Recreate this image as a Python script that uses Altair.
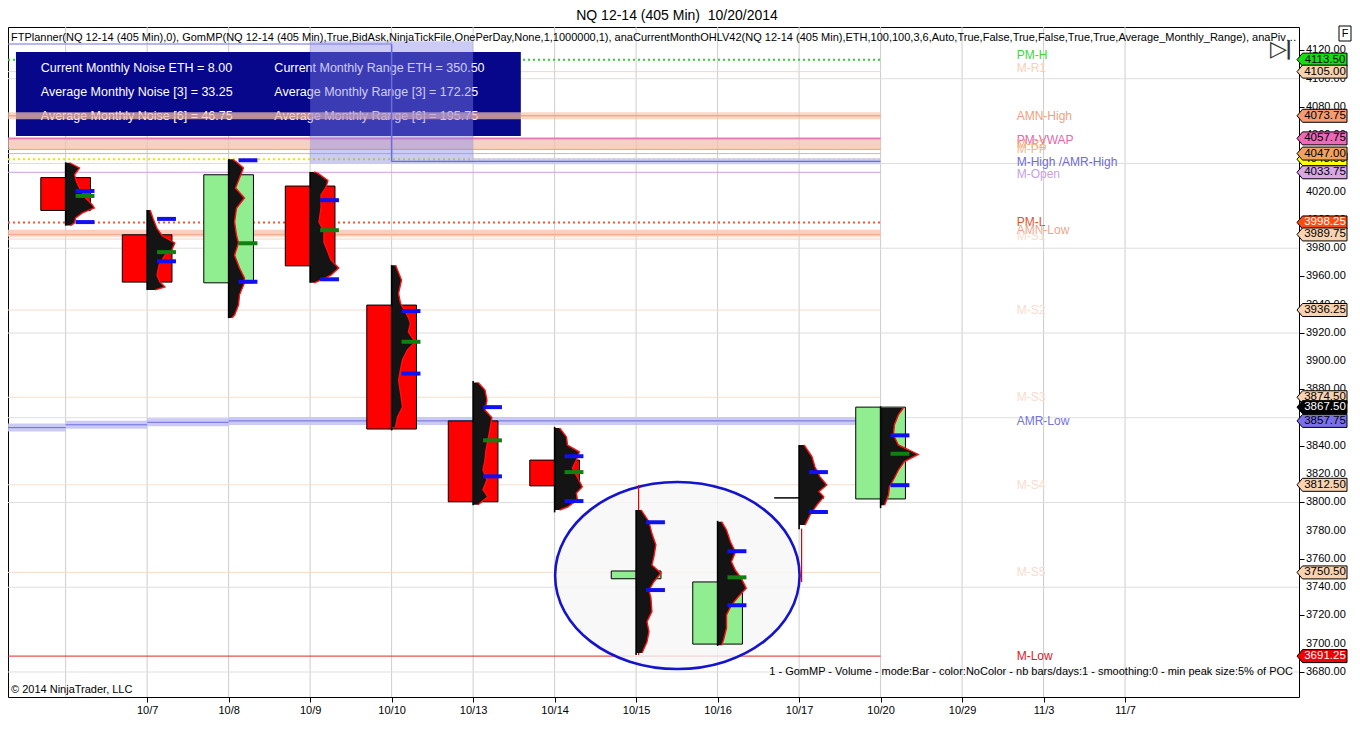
import json
import altair as alt
import pandas as pd

FONT = "Liberation Sans"

# ------------------------------------------------------------------ data
slot_dates = ["10/6", "10/7", "10/8", "10/9", "10/10", "10/13", "10/14", "10/15",
              "10/16", "10/17", "10/20", "10/29", "11/3", "11/7"]
bar_dates = ["10/6", "10/7", "10/8", "10/9", "10/10", "10/13", "10/14", "10/15",
             "10/16", "10/17", "10/20"]
opens = [4030.0, 3989.5, 3955.5, 4024.0, 3939.75, 3857.75, 3830.0, 3746.0, 3699.75, 3803.25, 3802.5]
highs = [4040.75, 4007.0, 4043.0, 4034.0, 3968.0, 3886.0, 3853.5, 3794.75, 3787.0, 3840.75, 3868.0]
lows = [3996.0, 3950.5, 3930.5, 3955.5, 3851.0, 3798.0, 3793.0, 3692.0, 3698.5, 3781.0, 3796.0]
closes = [4006.75, 3956.0, 4032.0, 3967.5, 3852.0, 3800.5, 3811.75, 3751.5, 3743.75, 3803.25, 3867.5]

vah = [4020.5, 4000.75, 4042.25, 4014.0, 3935.5, 3867.5, 3832.75, 3786.0, 3765.5, 3821.5, 3847.5]
val = [3998.5, 3970.75, 3956.25, 3958.0, 3891.25, 3818.5, 3801.0, 3738.0, 3727.25, 3793.25, 3812.25]
poc = [4017.0, 3977.25, 3983.5, 3992.75, 3913.75, 3844.0, 3821.5, None, 3747.0, None, 3834.5]

# volume profiles: (price, relative volume)
prof_1006 = [(4040.5, 4), (4036.8, 14), (4032, 9), (4027, 11), (4022.7, 14), (4015.6, 20), (4010.7, 27),
             (4008.5, 29), (4005, 17), (4001.4, 10), (3998, 9), (3996, 5)]
prof_1007 = [(4007, 3), (4001, 6), (3994, 10), (3989, 15), (3983.7, 28), (3978.8, 25), (3975, 18),
             (3968, 12), (3961, 10), (3956, 13), (3952.6, 18), (3950.5, 8)]
prof_1008 = [(4043, 4), (4041, 8), (4036.8, 15), (4029.7, 11), (4022.6, 7), (4015.6, 16), (4008.5, 8),
             (3998.6, 6), (3989, 8), (3983.7, 10), (3975, 6), (3966, 11), (3959, 16), (3955.4, 16),
             (3947, 11), (3940, 10), (3932.7, 6), (3930.6, 3)]
prof_1009 = [(4034, 4), (4033, 8), (4028, 18), (4023, 16), (4017.7, 11), (4008.5, 11), (3998.6, 9),
             (3991.5, 14), (3984.4, 14), (3977.3, 18), (3971.7, 21), (3966, 29), (3961, 21),
             (3957.5, 11), (3955.5, 4)]
prof_1010 = [(3968, 4), (3957.5, 10), (3948, 7), (3941, 9), (3931, 17), (3927, 19), (3920.7, 17),
             (3913.6, 24), (3908, 16), (3901, 11), (3894, 9), (3886.7, 7), (3877.5, 9), (3867.6, 11),
             (3860.5, 6), (3853.5, 4)]
prof_1013 = [(3885, 5), (3879.6, 12), (3872.6, 14), (3865.5, 12), (3860, 19), (3851.3, 17), (3844.2, 15),
             (3837, 13), (3830, 12), (3823, 10), (3816, 14), (3809, 10), (3804, 15), (3798.4, 5)]
prof_1014 = [(3852.7, 5), (3846.4, 12), (3840.7, 13), (3835.8, 25), (3830, 22), (3824.4, 18), (3818, 23),
             (3811, 28), (3806.7, 22), (3801.8, 23), (3796.8, 13), (3794.7, 5)]
prof_1015 = [(3794.7, 5), (3786.4, 13), (3778, 16), (3770, 20), (3761.6, 18), (3755.8, 16), (3750, 25),
             (3743.9, 18), (3738, 13), (3732.4, 15), (3722.7, 16), (3715.6, 11), (3708.5, 13),
             (3701.4, 11), (3693.5, 6)]
prof_1016 = [(3786.4, 4), (3780.5, 9), (3772.2, 13), (3765, 18), (3758, 14), (3752, 18), (3746.3, 24),
             (3739.3, 29), (3733.3, 21), (3727.4, 14), (3720.4, 9), (3711, 9), (3702.7, 6), (3699, 4)]
prof_1017 = [(3840.7, 5), (3832.5, 13), (3825.3, 16), (3818.3, 21), (3812.4, 28), (3807.7, 20), (3804, 25),
             (3798.2, 18), (3791, 11), (3784, 6)]
prof_1020 = [(3866.9, 23), (3862, 18), (3855, 14), (3847.8, 13), (3840.7, 18), (3834, 38), (3829, 24),
             (3823, 18), (3817.3, 14), (3811.2, 9), (3805.3, 8), (3798, 4)]
profiles = [prof_1006, prof_1007, prof_1008, prof_1009, prof_1010, prof_1013, prof_1014,
            prof_1015, prof_1016, prof_1017, prof_1020]

# thin red tails (slot, top, bottom)
tail_slots = [7, 9]
tail_tops = [3812.4, 3781.5]
tail_bottoms = [3692.0, 3743.7]

y_ticks = [3680, 3700, 3720, 3740, 3760, 3780, 3800, 3820, 3840, 3860, 3880, 3900, 3920,
           3940, 3960, 3980, 4000, 4020, 4040, 4060, 4080, 4100, 4120]
grid_prices = [3680, 3740, 3800, 3860, 3920, 3980, 4040, 4100]

level_names = ["PM-H", "M-R1", "AMN-High", "PM-VWAP", "M-R2", "M-PP", "M-High /AMR-High", "M-Open",
               "PM-L", "AMN-Low", "M-S1", "M-S2", "M-S3", "AMR-Low", "M-S4", "M-S5", "M-Low"]
level_prices = [4113.50, 4105.00, 4073.75, 4057.75, 4054.0, 4050.0, 4041.5, 4033.75,
                3998.25, 3989.75, 3986.5, 3936.25, 3874.50, 3857.75, 3812.50, 3750.50, 3691.25]
level_label_prices = [4116.5, 4107.5, 4073.75, 4056.5, 4054.0, 4050.5, 4041.0, 4032.5,
                      3998.25, 3993.0, 3989.0, 3936.25, 3874.50, 3858.0, 3812.50, 3750.50, 3691.25]
level_colors = ["#3ad83a", "#f8d0b6", "#f0a080", "#e468a8", "#f0a878", "#f2b888", "#6e6ad8", "#c8a0e2",
                "#e2502e", "#f0a48c", "#f6dccc", "#f8dccc", "#f8dccc", "#7474dc", "#f8dccc", "#f8dccc",
                "#e41428"]

flag_prices = [4113.50, 4105.00, 4073.75, 4057.75, 4043.00, 4047.00, 4033.75, 3998.25, 3989.75,
               3936.25, 3874.50, 3867.50, 3857.75, 3812.50, 3750.50, 3691.25]
flag_fills = ["#10e010", "#f9d2b0", "#f59a72", "#f068b8", "#ffff00", "#f2a25c", "#d6a6e6", "#ff4a10",
              "#f9d2b0", "#f9d2b0", "#f9d2b0", "#000000", "#7a70ec", "#f9d2b0", "#f9d2b0", "#f00000"]
flag_text_colors = ["black", "black", "black", "black", "black", "black", "black", "white",
                    "black", "black", "black", "white", "black", "black", "black", "white"]

info_left = ["Current Monthly Noise ETH = 8.00", "Average Monthly Noise [3] = 33.25",
             "Average Monthly Noise [6] = 46.75"]
info_right = ["Current Monthly Range ETH = 350.50", "Average Monthly Range [3] = 172.25",
              "Average Monthly Range [6] = 195.75"]

title_text = "NQ 12-14 (405 Min)\u00a0 10/20/2014"
header_text = ("FTPlanner(NQ 12-14 (405 Min),0), GomMP(NQ 12-14 (405 Min),True,BidAsk,NinjaTickFile,"
               "OnePerDay,None,1,1000000,1), anaCurrentMonthOHLV42(NQ 12-14 (405 Min),ETH,100,100,3,6,"
               "Auto,True,False,True,False,True,True,Average_Monthly_Range), anaPivotsMonthly")
footer_text = ("1 - GomMP - Volume - mode:Bar - color:NoColor - nb bars/days:1 - smoothing:0 - "
               "min peak size:5% of POC")
copyright_text = "\u00a9 2014 NinjaTrader, LLC"

# highlighted area (ellipse centre)
hl_slot = [7.506]
hl_price = [3748.3]

# ------------------------------------------------------------------ scales
X0, X1 = -0.70732, 15.13415
XS = alt.Scale(domain=[X0, X1], nice=False, zero=False)
YS = alt.Scale(domain=[3662.3, 4136.6], nice=False, zero=False)
PX = 1291 / 1299  # ref px -> chart px
LAST = 10         # last bar slot, level lines end here
PLOT_W = 1291

layers = []

# grid + axes
vgrid = pd.DataFrame({"s": list(range(len(slot_dates)))})
layers.append(alt.Chart(vgrid).mark_rule(color="#cdcdcd", strokeWidth=1).encode(
    x=alt.X("s:Q", scale=XS, title=None,
            axis=alt.Axis(orient="bottom", values=list(range(1, len(slot_dates))),
                          labelExpr=f"{json.dumps(slot_dates)}[datum.value]",
                          tickSize=5, tickColor="black", domain=False, grid=False,
                          labelFont=FONT, labelFontSize=11, labelColor="black",
                          labelPadding=2, labelFlush=False, labelOverlap=False))))
hgrid = pd.DataFrame({"p": grid_prices})
layers.append(alt.Chart(hgrid).mark_rule(color="#dedede", strokeWidth=1).encode(
    y=alt.Y("p:Q", scale=YS, title=None,
            axis=alt.Axis(orient="right", values=y_ticks, tickSize=5, labels=False,
                          tickColor="black", domain=False, grid=False))))
# price-axis labels
ytl = pd.DataFrame({"p": y_ticks})
layers.append(alt.Chart(ytl).mark_text(align="left", baseline="middle", fontSize=11, font=FONT,
                                       color="black", dx=7).encode(
    x=alt.value(PLOT_W), y=alt.Y("p:Q", scale=YS), text=alt.Text("p:Q", format=".2f")))


def hline(price, start, end, color, width, dash=None, opacity=1.0):
    df = pd.DataFrame({"p": [price], "s": [start], "e": [end]})
    kw = dict(color=color, strokeWidth=width, opacity=opacity)
    if dash:
        kw["strokeDash"] = dash
    return alt.Chart(df).mark_rule(**kw).encode(
        x=alt.X("s:Q", scale=XS), x2="e:Q", y=alt.Y("p:Q", scale=YS))


def vline(slot, p0, p1, color, width, opacity=1.0):
    df = pd.DataFrame({"s": [slot], "a": [p0], "b": [p1]})
    return alt.Chart(df).mark_rule(color=color, strokeWidth=width, opacity=opacity).encode(
        x=alt.X("s:Q", scale=XS), y=alt.Y("a:Q", scale=YS), y2="b:Q")


lp = dict(zip(level_names, level_prices))
# level lines under the info box
layers += [
    hline(lp["PM-H"], X0, LAST, "#2ed02e", 2, [2, 3]),
    hline(lp["M-R1"], X0, LAST, "#f6d6c2", 1),
    hline(lp["M-R2"], X0, LAST, "#f4c0b0", 9, opacity=0.75),
    hline(lp["PM-VWAP"], X0, LAST, "#ea78b8", 2),
    hline(lp["M-PP"], X0, LAST, "#f2aa70", 1.5),
    hline(4047.0, X0, LAST, "#f0b080", 1),
    hline(4043.0, X0, LAST, "#e6e600", 2, [2, 3]),
    hline(lp["M-Open"], X0, LAST, "#c8a0e6", 1),
    hline(lp["AMN-Low"] + 0.8, X0, LAST, "#f9c8b2", 7, opacity=0.85),
    hline(lp["AMN-Low"], X0, LAST, "#f2a890", 1),
    hline(lp["PM-L"], X0, LAST, "#f05838", 2, [2, 3]),
    hline(lp["M-S1"], X0, LAST, "#f2d4c4", 1),
    hline(lp["M-S2"], X0, LAST, "#f5dccb", 1),
    hline(lp["M-S3"], X0, LAST, "#f5dccb", 1),
    hline(lp["M-S4"], X0, LAST, "#f5dccb", 1),
    hline(lp["M-S5"], X0, LAST, "#f5dccb", 1),
    hline(lp["M-Low"], X0, LAST, "#e02828", 1),
]
# AMR-Low stepped band
amr_low_steps = [(X0, 0, 3853.0), (0, 1, 3855.0), (1, 2, 3856.75), (2, LAST, 3857.75)]
for s, e, p in amr_low_steps:
    layers.append(hline(p, s, e, "#c4c4f4", 8, opacity=0.9))
for s, e, p in amr_low_steps:
    layers.append(hline(p, s, e, "#6c6ce0", 1))
# AMR-High band right part
layers.append(hline(lp["M-High /AMR-High"], 5, LAST, "#c8c8f4", 6, opacity=0.9))


def ptext(text, x, y, size=11, color="black", align="left", weight="normal", font=FONT, limit=0):
    kw = dict(align=align, baseline="middle", fontSize=size, color=color, font=font,
              fontWeight=weight)
    if limit:
        kw["limit"] = limit
        kw["ellipsis"] = ""
    return alt.Chart(pd.DataFrame({"t": [text]})).mark_text(**kw).encode(
        x=alt.value(x), y=alt.value(y), text="t:N")


# info box
box = pd.DataFrame({"a": [0]})
layers.append(alt.Chart(box).mark_rect(color="#07078c").encode(
    x=alt.value(8 * PX), x2=alt.value(516 * PX), y=alt.value(25), y2=alt.value(109)))
for k in range(3):
    layers.append(ptext(info_left[k], 33 * PX, 41 + 24 * k, size=12.5, color="white"))
    layers.append(ptext(info_right[k], 268 * PX, 41 + 24 * k, size=12.5, color="white"))

# over the box: AMN-High band and AMR-High overlay
layers.append(hline(lp["AMN-High"], X0, LAST, "#f9c4ac", 7, opacity=0.7))
layers.append(hline(lp["AMN-High"], X0, LAST, "#e88a70", 1, opacity=0.9))
ovl = pd.DataFrame({"s": [3], "e": [5], "a": [4040.0], "b": [4126.5]})
layers.append(alt.Chart(ovl).mark_rect(color="#8282ea", opacity=0.42).encode(
    x=alt.X("s:Q", scale=XS), x2="e:Q", y=alt.Y("a:Q", scale=YS), y2="b:Q"))
layers.append(hline(4124.5, X0, 4, "#8a8ae8", 1.5, opacity=0.8))
layers.append(vline(4, lp["M-High /AMR-High"], 4124.5, "#6c6ce0", 1.5))
layers.append(hline(lp["M-High /AMR-High"], 4, LAST, "#6c6ce0", 1.2))

# highlight ellipse
k = 0.5523
ry = 0.765
ell = (f"M-1,0 C-1,{-k*ry:.4f} {-k:.4f},{-ry} 0,{-ry} C{k:.4f},{-ry} 1,{-k*ry:.4f} 1,0 "
       f"C1,{k*ry:.4f} {k:.4f},{ry} 0,{ry} C{-k:.4f},{ry} -1,{k*ry:.4f} -1,0 Z")
layers.append(alt.Chart(pd.DataFrame({"s": hl_slot, "p": hl_price})).mark_point(
    shape=ell, size=(246 * PX) ** 2, filled=True, fill="#f6f6f6", fillOpacity=0.8,
    stroke="#1414cc", strokeWidth=2.6, opacity=1).encode(
    x=alt.X("s:Q", scale=XS), y=alt.Y("p:Q", scale=YS)))

# candles
cdf = pd.DataFrame({"day": bar_dates, "slot": list(range(len(bar_dates))), "open": opens,
                    "high": highs, "low": lows, "close": closes})
cdf["dir"] = ["up" if c > o else ("down" if c < o else "flat") for o, c in zip(opens, closes)]

tdf = pd.DataFrame({"s": tail_slots, "a": tail_tops, "b": tail_bottoms})
layers.append(alt.Chart(tdf).mark_rule(color="#e00000", strokeWidth=1.2, xOffset=2.5).encode(
    x=alt.X("s:Q", scale=XS), y=alt.Y("a:Q", scale=YS), y2="b:Q"))

layers.append(alt.Chart(cdf).mark_rect(stroke="black", strokeWidth=1, xOffset=-25 * PX,
                                       x2Offset=25 * PX).encode(
    x=alt.X("slot:Q", scale=XS), x2="slot:Q",
    y=alt.Y("open:Q", scale=YS), y2="close:Q",
    fill=alt.Fill("dir:N", scale=alt.Scale(domain=["up", "down", "flat"],
                                           range=["#90ee90", "#ff0000", "#000000"]), legend=None)))

rows = []
for d, sl, prof in zip(bar_dates, range(len(bar_dates)), profiles):
    for p, v in prof:
        rows.append({"day": d, "slot": sl, "price": p, "x0": sl, "xr": sl + v * PX / 82})
pdf = pd.DataFrame(rows)
layers.append(alt.Chart(pdf).mark_area(orient="horizontal", color="#141414", opacity=1).encode(
    y=alt.Y("price:Q", scale=YS), x=alt.X("xr:Q", scale=XS, stack=None), x2="x0:Q",
    detail="day:N"))
layers.append(alt.Chart(pdf).mark_line(color="#ff1010", strokeWidth=1.4).encode(
    y=alt.Y("price:Q", scale=YS), x=alt.X("xr:Q", scale=XS), detail="day:N",
    order=alt.Order("price:Q")))

layers.append(alt.Chart(cdf).mark_rule(color="black", strokeWidth=1.6).encode(
    x=alt.X("slot:Q", scale=XS), y=alt.Y("low:Q", scale=YS), y2="high:Q"))

# value area / POC markers
va_rows = []
poc_rows = []
for sl, a, b, c in zip(range(len(bar_dates)), vah, val, poc):
    va_rows += [{"slot": sl, "p": a}, {"slot": sl, "p": b}]
    if c is not None:
        poc_rows.append({"slot": sl, "p": c})
for rows_, col in ((va_rows, "#1010f0"), (poc_rows, "#108010")):
    layers.append(alt.Chart(pd.DataFrame(rows_)).mark_rule(
        strokeWidth=4, color=col, xOffset=10 * PX, x2Offset=29 * PX).encode(
        x=alt.X("slot:Q", scale=XS), x2="slot:Q", y=alt.Y("p:Q", scale=YS)))

# level labels (one layer each so colours stay independent)
LABEL_SLOT = 11.67
for name, p, col in zip(level_names, level_label_prices, level_colors):
    d = pd.DataFrame({"name": [name], "p": [p], "s": [LABEL_SLOT]})
    layers.append(alt.Chart(d).mark_text(align="left", baseline="middle", fontSize=12, font=FONT,
                                         color=col).encode(
        x=alt.X("s:Q", scale=XS), y=alt.Y("p:Q", scale=YS), text="name:N"))

# price flags on the right axis
flag_shape = "M-1,0 L-0.78,-0.26 L1,-0.26 L1,0.26 L-0.78,0.26 Z"
for p, fc, tc in zip(flag_prices, flag_fills, flag_text_colors):
    d = pd.DataFrame({"p": [p], "key": [f"{p:.2f}"]})
    layers.append(alt.Chart(d).mark_point(shape=flag_shape, size=2500, filled=True, fill=fc,
                                          stroke="black", strokeWidth=1, opacity=1,
                                          fillOpacity=1).encode(
        x=alt.value(1314), y=alt.Y("p:Q", scale=YS)))
    layers.append(alt.Chart(d).mark_text(align="center", baseline="middle", fontSize=11.5,
                                         font=FONT, color=tc).encode(
        x=alt.value(1317), y=alt.Y("p:Q", scale=YS), text="key:N"))

# texts
layers.append(ptext(title_text, 669, -11, size=14, align="center"))
layers.append(ptext(header_text, 3, 11, size=11, limit=1288))
layers.append(ptext(footer_text, 1285, 645, size=11, align="right"))
layers.append(ptext(copyright_text, 3, 663, size=11))
layers.append(ptext("\u25b7", 1262, 22, size=22, color="#333333", font="DejaVu Sans"))
layers.append(ptext("|", 1277, 22, size=20, color="#333333", weight="bold", font="DejaVu Sans"))
layers.append(alt.Chart(box).mark_rect(fill="white", stroke="black", strokeWidth=1).encode(
    x=alt.value(1331), x2=alt.value(1343), y=alt.value(-1), y2=alt.value(14)))
layers.append(ptext("F", 1337, 6.5, size=11, align="center"))

chart = alt.layer(*layers).properties(
    width=PLOT_W, height=670,
    padding={"left": 0, "top": 19, "right": 53, "bottom": 24},
    autosize=alt.AutoSizeParams(type="none"),
    background="white",
).configure_view(stroke="black", strokeWidth=1)

chart.save("out.html", embed_options={"renderer": "svg", "actions": False})
